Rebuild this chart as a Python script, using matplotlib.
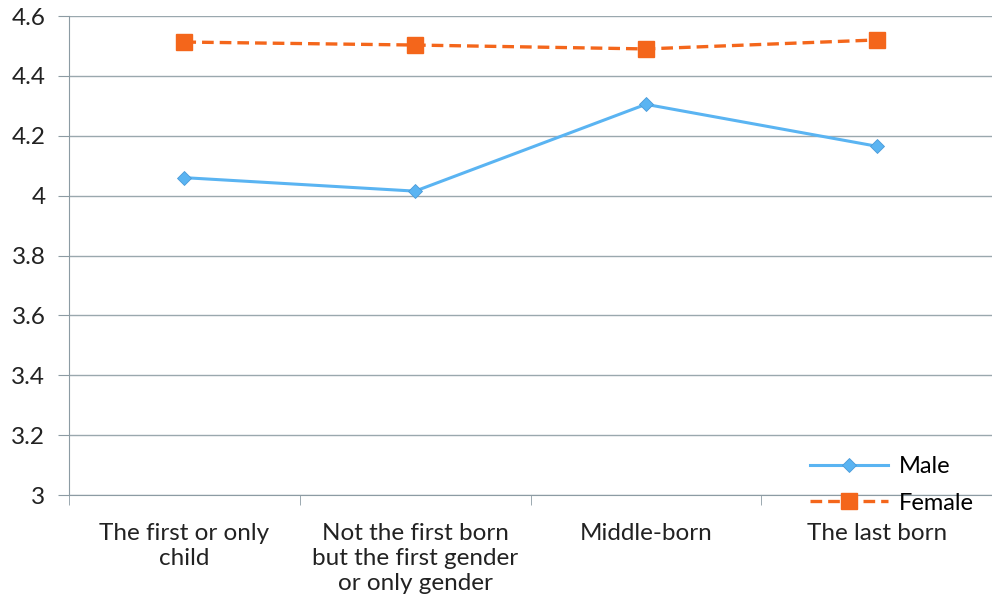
import numpy as np
import matplotlib.pyplot as plt

categories = ["The first or only\nchild",
              "Not the first born\nbut the first gender\nor only gender",
              "Middle-born",
              "The last born"]
male = [4.06, 4.015, 4.305, 4.165]
female = [4.513, 4.503, 4.49, 4.52]

plt.rcParams['font.family'] = ['Lato', 'DejaVu Sans']

fig = plt.figure(figsize=(9.92, 5.97), dpi=100)
ax = fig.add_axes([69 / 992, 102 / 597, 923 / 992, 479 / 597])

x = np.arange(len(categories))
ax.plot(x, male, color='#5AB4F2', lw=2.2, marker='D', ms=7,
        markeredgecolor='#4A9AD8', markeredgewidth=0.6, label='Male')
ax.plot(x, female, color='#F4661B', lw=2.4, ls=(0, (3.5, 1.8)), marker='s', ms=11,
        markeredgecolor='#F4661B', label='Female')

ax.set_xlim(-0.5, 3.5)
ax.set_ylim(3, 4.6)
ax.set_yticks(np.arange(3, 4.61, 0.2))
ax.set_yticklabels(['3', '3.2', '3.4', '3.6', '3.8', '4', '4.2', '4.4', '4.6'])
ax.set_xticks(x)
ax.set_xticklabels(categories, va='top', linespacing=1.25)
ax.set_xticks(np.arange(-0.5, 3.6, 1), minor=True)
ax.tick_params(axis='x', which='major', length=0, pad=20, labelsize=17.5, labelcolor='#222222')
ax.tick_params(axis='x', which='minor', length=7, color='#8C9BA3', direction='out')
ax.tick_params(axis='y', length=8, color='#8C9BA3', labelsize=17.5, labelcolor='#222222', pad=9)

ax.grid(axis='y', color='#9AA8AE', lw=1)
for s in ['top', 'right']:
    ax.spines[s].set_visible(False)
ax.spines['left'].set_color('#8C9BA3')
ax.spines['bottom'].set_color('#8C9BA3')
ax.set_axisbelow(True)

leg = fig.legend(loc='center', bbox_to_anchor=(892 / 992, 1 - 485 / 597), frameon=False,
                 fontsize=17, handlelength=3.3, labelspacing=0.65, handletextpad=0.5)

fig.savefig('out.png', dpi=100)
